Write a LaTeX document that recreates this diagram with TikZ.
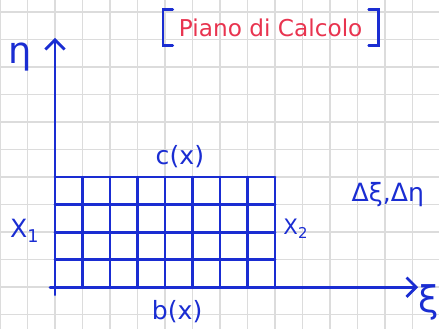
\documentclass[tikz,border=0pt]{standalone}
\usepackage{fontspec}
\setmainfont{DejaVu Sans}
\usetikzlibrary{arrows.meta}
\definecolor{inkblue}{HTML}{1A2DD2}
\definecolor{inkred}{HTML}{E8344F}
\definecolor{paper}{HTML}{DCDCDC}
\tikzset{
  ink/.style={draw=inkblue, line width=1.4pt, line cap=round},
  tip/.style={-{Straight Barb[length=5pt,width=10pt]}},
  lbl/.style={text=inkblue, inner sep=1pt, font=\fontsize{13}{15}\selectfont},
  axislbl/.style={text=inkblue, inner sep=1pt, font=\fontsize{19}{21}\selectfont}
}

\begin{document}
\begin{tikzpicture}
\useasboundingbox (0,0) rectangle (7.98,5.98);
\foreach \i in {0,...,16}
  \draw[paper, line width=0.7pt] (0.5*\i,0) -- (0.5*\i,5.98);
\foreach \j in {0,...,11}
  \draw[paper, line width=0.7pt] (0,0.264+0.5*\j) -- (7.98,0.264+0.5*\j);

\coordinate (o) at (1,0.76);
\coordinate (etabot) at (1,0.62);
\coordinate (etatop) at (1,5.29);
\coordinate (xileft) at (0.91,0.76);
\coordinate (xiright) at (7.6,0.76);

\draw[ink, step=0.5, shift={(o)}] (0,0) grid (4,2);
\draw[ink, tip] (etabot) -- (etatop);
\draw[ink, tip] (xileft) -- (xiright);

\node[axislbl] (eta) at (0.36,4.95) {η};
\node[axislbl] (xi) at (7.8,0.48) {ξ};
\node[lbl] (cx) at (3.27,3.13) {c(x)};
\node[lbl] (bx) at (3.22,0.31) {b(x)};
\node[lbl] (x1) at (0.45,1.78) {X\textsubscript{1}};
\node[lbl, font=\fontsize{11}{13}\selectfont] (x2) at (5.38,1.82) {X\textsubscript{2}};
\node[lbl] (deltas) at (7.05,2.45) {Δξ,Δη};

\node[minimum width=3.9cm, minimum height=0.64cm, inner sep=0pt,
      text=inkred, font=\fontsize{12}{14}\selectfont]
  (title) at (4.92,5.48) {Piano di Calcolo};
\draw[ink] ([xshift=5pt]title.north west) -- (title.north west)
  -- (title.south west) -- ([xshift=5pt]title.south west);
\draw[ink] ([xshift=-5pt]title.north east) -- (title.north east)
  -- (title.south east) -- ([xshift=-5pt]title.south east);
\end{tikzpicture}
\end{document}
